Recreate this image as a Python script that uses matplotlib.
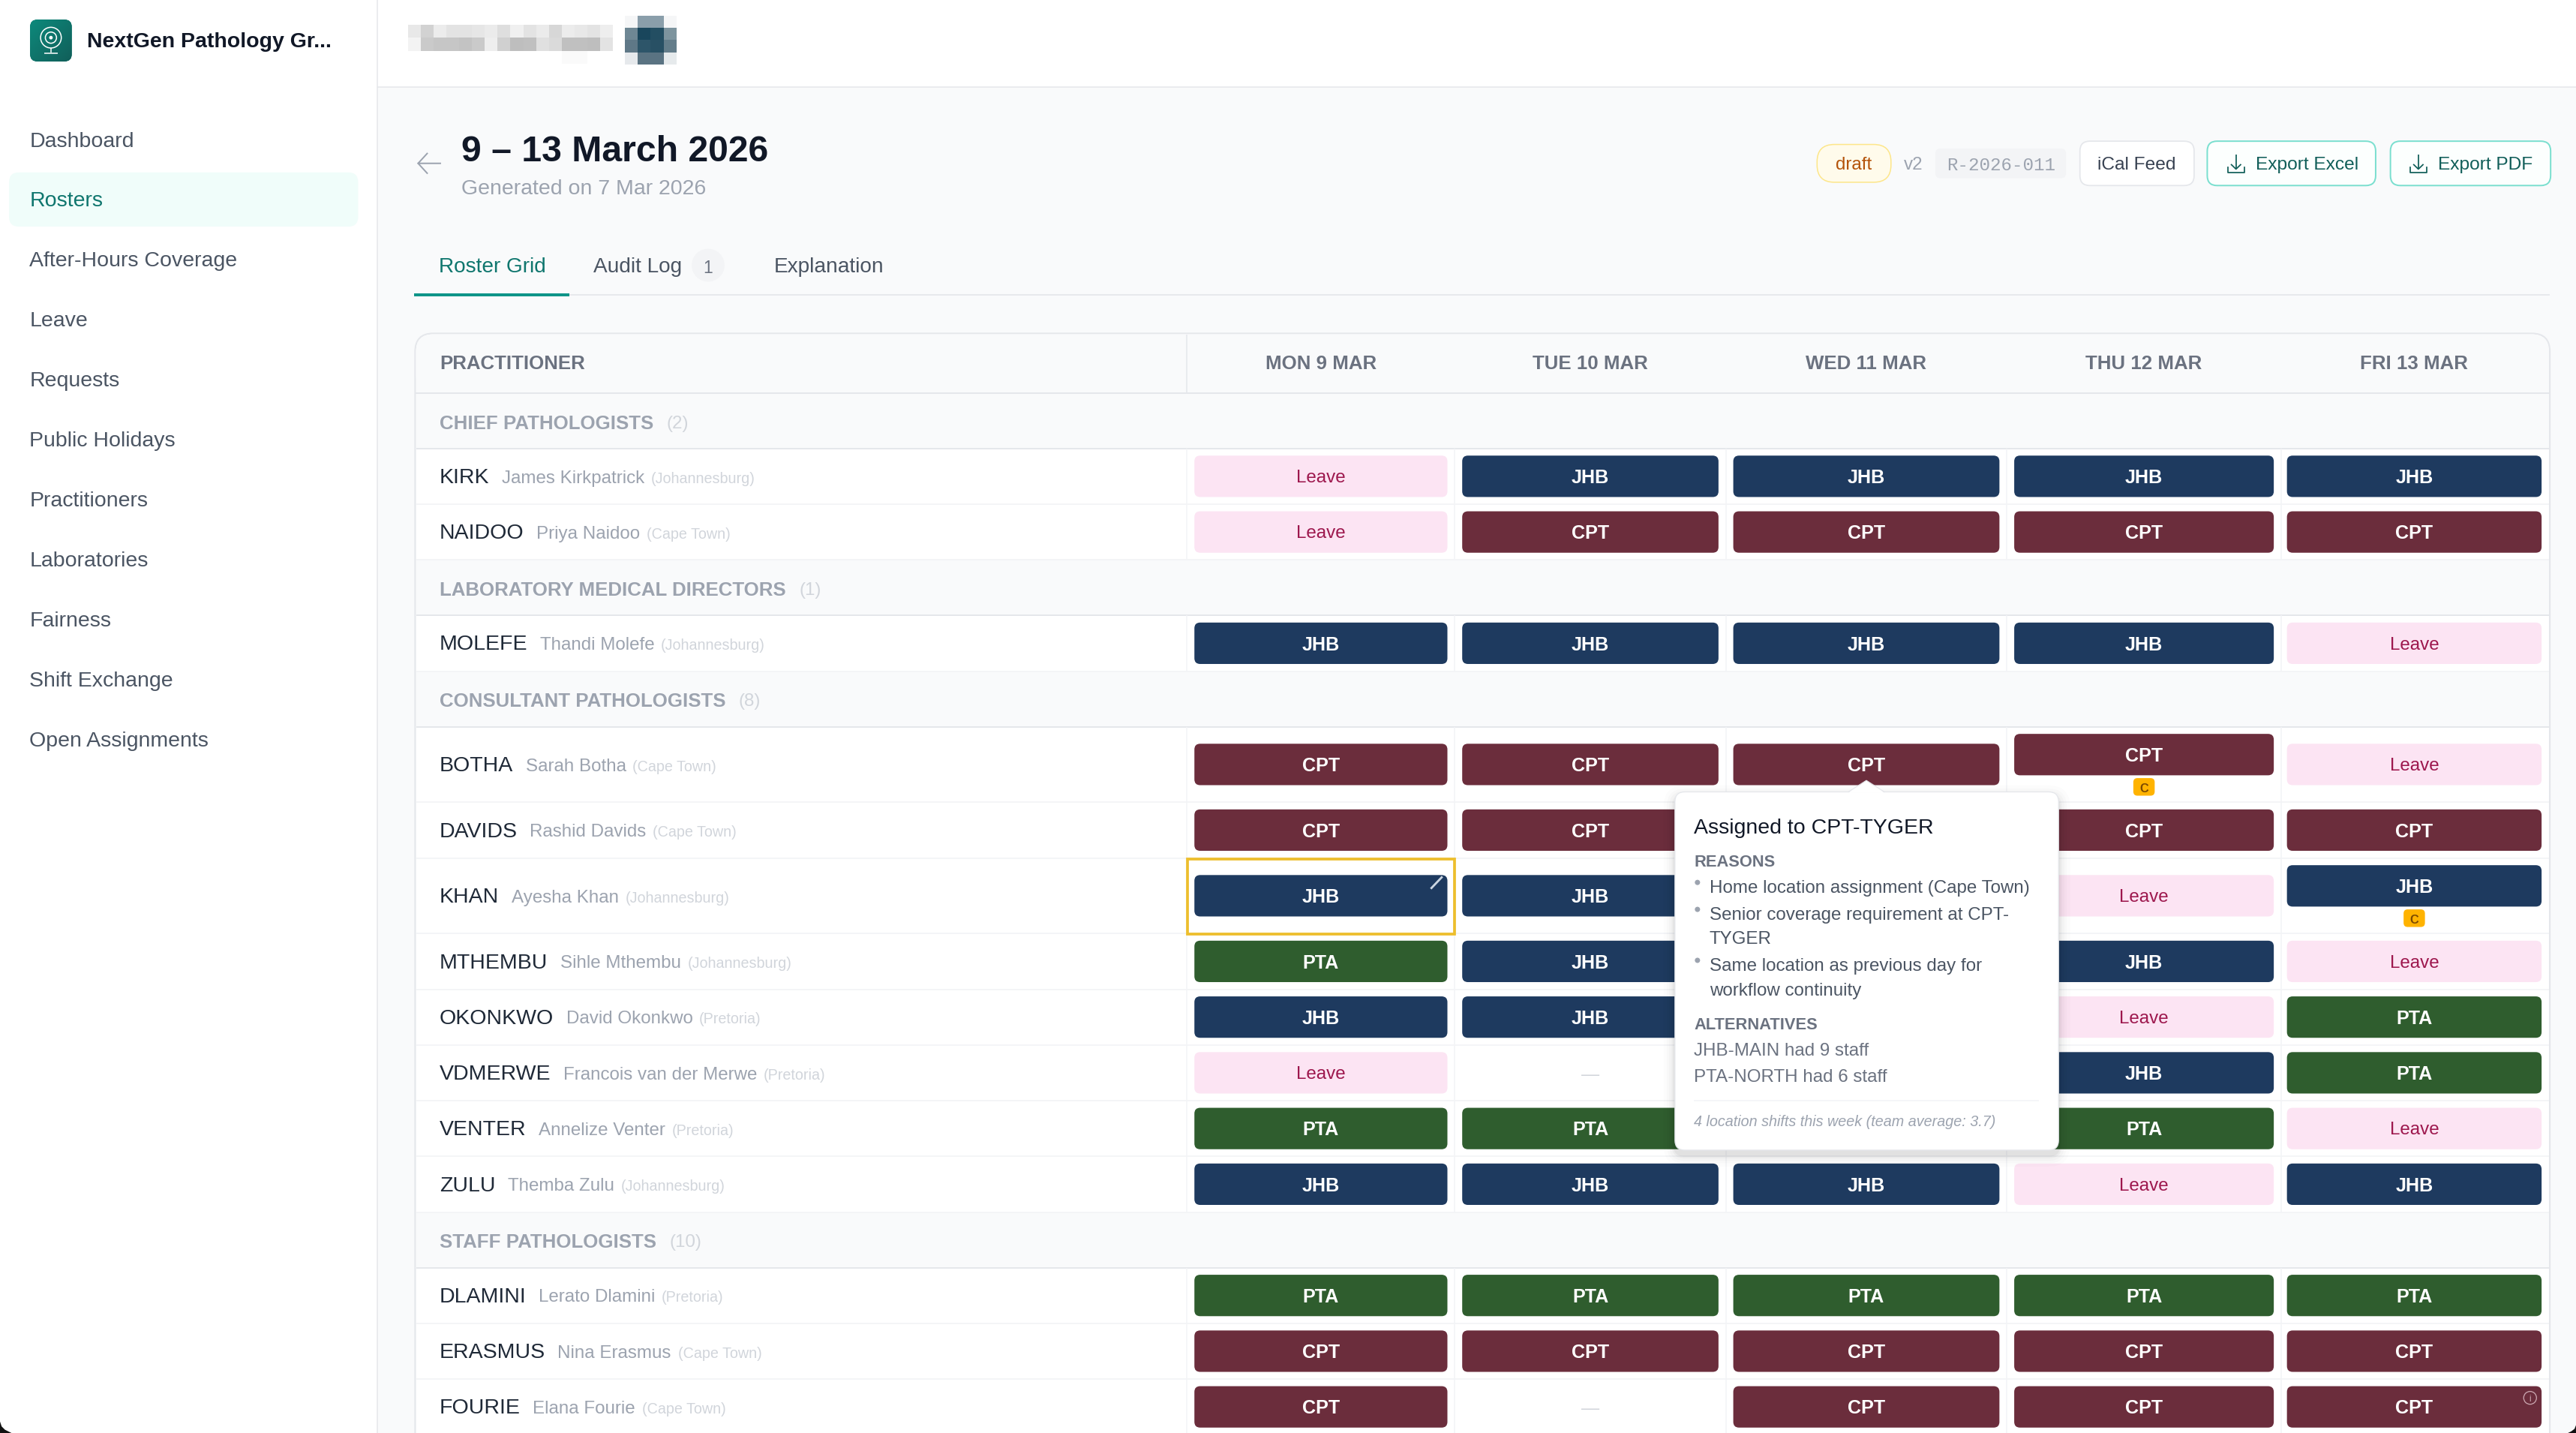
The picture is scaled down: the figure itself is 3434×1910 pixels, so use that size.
import numpy as np
import matplotlib
matplotlib.use("Agg")
import matplotlib.pyplot as plt
from matplotlib.patches import FancyBboxPatch, Rectangle, Circle, Polygon

plt.rcParams['font.family'] = ['Liberation Sans', 'DejaVu Sans']

# data
nav_items = ["Dashboard", "Rosters", "After-Hours Coverage", "Leave", "Requests", "Public Holidays",
             "Practitioners", "Laboratories", "Fairness", "Shift Exchange", "Open Assignments"]
days = ["MON 9 MAR", "TUE 10 MAR", "WED 11 MAR", "THU 12 MAR", "FRI 13 MAR"]
tabs = ["Roster Grid", "Audit Log", "Explanation"]

# (code, full name, town, cells), "" = hidden behind the tooltip, "-" = nothing assigned
chief = [("KIRK", "James Kirkpatrick", "Johannesburg", ["Leave", "JHB", "JHB", "JHB", "JHB"]),
         ("NAIDOO", "Priya Naidoo", "Cape Town", ["Leave", "CPT", "CPT", "CPT", "CPT"])]
directors = [("MOLEFE", "Thandi Molefe", "Johannesburg", ["JHB", "JHB", "JHB", "JHB", "Leave"])]
consultants = [("BOTHA", "Sarah Botha", "Cape Town", ["CPT", "CPT", "CPT", "CPT", "Leave"]),
               ("DAVIDS", "Rashid Davids", "Cape Town", ["CPT", "CPT", "", "CPT", "CPT"]),
               ("KHAN", "Ayesha Khan", "Johannesburg", ["JHB", "JHB", "", "Leave", "JHB"]),
               ("MTHEMBU", "Sihle Mthembu", "Johannesburg", ["PTA", "JHB", "", "JHB", "Leave"]),
               ("OKONKWO", "David Okonkwo", "Pretoria", ["JHB", "JHB", "", "Leave", "PTA"]),
               ("VDMERWE", "Francois van der Merwe", "Pretoria", ["Leave", "-", "", "JHB", "PTA"]),
               ("VENTER", "Annelize Venter", "Pretoria", ["PTA", "PTA", "", "PTA", "Leave"]),
               ("ZULU", "Themba Zulu", "Johannesburg", ["JHB", "JHB", "JHB", "Leave", "JHB"])]
staff = [("DLAMINI", "Lerato Dlamini", "Pretoria", ["PTA", "PTA", "PTA", "PTA", "PTA"]),
         ("ERASMUS", "Nina Erasmus", "Cape Town", ["CPT", "CPT", "CPT", "CPT", "CPT"]),
         ("FOURIE", "Elana Fourie", "Cape Town", ["CPT", "-", "CPT", "CPT", "CPT"])]
groups = [("CHIEF PATHOLOGISTS", "(2)", chief),
          ("LABORATORY MEDICAL DIRECTORS", "(1)", directors),
          ("CONSULTANT PATHOLOGISTS", "(8)", consultants),
          ("STAFF PATHOLOGISTS", "(10)", staff)]
# rows which carry a small C badge: code -> day index
call_badges = {"BOTHA": 3, "KHAN": 4}

reasons = [["Home location assignment (Cape Town)"],
           ["Senior coverage requirement at CPT-", "TYGER"],
           ["Same location as previous day for", "workflow continuity"]]
alternatives = ["JHB-MAIN had 9 staff", "PTA-NORTH had 6 staff"]

mosaic_left = [[232, 210, 236, 228, 228, 230, 235, 222, 240, 228, 235, 215, 236, 232, 228, 238],
               [244, 202, 198, 198, 195, 202, 238, 208, 190, 192, 224, 218, 192, 192, 190, 228],
               [255, 255, 255, 255, 255, 255, 255, 255, 255, 255, 255, 255, 250, 250, 255, 255]]
mosaic_right = [[(245, 246, 247), (138, 158, 170), (138, 158, 170), (245, 246, 247)],
                [(110, 135, 148), (25, 70, 92), (35, 78, 98), (125, 148, 158)],
                [(95, 120, 135), (45, 85, 105), (40, 80, 100), (100, 125, 138)],
                [(230, 233, 236), (90, 115, 130), (90, 115, 130), (230, 234, 236)]]

# styles
pill_colors = {"CPT": "#6B2D3C", "JHB": "#1E3A5F", "PTA": "#2F5D2E", "Leave": "#FCE4F3"}
col_left = [727, 890, 1055, 1226, 1392]
col_right = [881, 1046, 1217, 1384, 1547]
col_lines = [722.5, 885.5, 1050.5, 1221.5, 1388.5]
TEAL = "#0F766E"
LINE = "#E5E7EB"
LIGHT = "#F3F4F6"
BG = "#F9FAFB"

# 1 pt == 1 unit of the axes
DPI = 2.19 * 72
fig = plt.figure(figsize=(3434.2 / DPI, 1910.2 / DPI), dpi=DPI, facecolor="white")
ax = fig.add_axes([0, 0, 1, 1])
ax.set_xlim(0, 3434 / 2.19)
ax.set_ylim(1910 / 2.19, 0)
ax.axis("off")
W, H = 3434 / 2.19, 1910 / 2.19
renderer = fig.canvas.get_renderer()


def box(x0, y0, x1, y1, fc, ec="none", lw=0, r=0, z=2, alpha=None):
    if r > 0:
        p = FancyBboxPatch((x0, y0), x1 - x0, y1 - y0, boxstyle=f"round,pad=0,rounding_size={r}",
                           fc=fc, ec=ec, lw=lw, zorder=z, alpha=alpha)
    else:
        p = Rectangle((x0, y0), x1 - x0, y1 - y0, fc=fc, ec=ec, lw=lw, zorder=z, alpha=alpha)
    ax.add_patch(p)
    return p


def txt(x, y, s, size=13, color="#111827", ha="left", weight="normal", z=5, **kw):
    return ax.text(x, y, s, fontsize=size, color=color, ha=ha, va="center_baseline", fontweight=weight, zorder=z, **kw)


def right_of(t):
    bb = t.get_window_extent(renderer)
    return ax.transData.inverted().transform((bb.x1, bb.y0))[0]


def hline(x0, x1, y, color=LINE, lw=0.7, z=3):
    ax.plot([x0, x1], [y, y], color=color, lw=lw, zorder=z, solid_capstyle="butt")


def vline(x, y0, y1, color=LINE, lw=0.7, z=3):
    ax.plot([x, x], [y0, y1], color=color, lw=lw, zorder=z, solid_capstyle="butt")


# page frame
box(229.5, 53, W, H, BG, z=0)
vline(229.5, 0, H, color=LINE)
hline(229.5, W, 53.2, color=LINE)

# sidebar
logo = box(18.3, 12, 43.7, 37.5, "#0F766E", r=4.5, z=3)
grad = np.linspace(0, 1, 50)[None, :] + np.linspace(0, 1, 50)[:, None]
im = ax.imshow(grad, extent=(18, 44, 38, 12), cmap=matplotlib.colors.LinearSegmentedColormap.from_list("l", ["#0D8A7C", "#115E59"]),
               zorder=4, aspect="auto")
im.set_clip_path(logo)
ax.set_xlim(0, W)
ax.set_ylim(H, 0)
for rad, lw in [(6.3, 0.7), (3.4, 0.7)]:
    ax.add_patch(Circle((31, 23), rad, fc="none", ec="white", lw=lw, zorder=5))
ax.add_patch(Circle((31, 23), 1.1, fc="white", ec="none", zorder=5))
vline(31, 29.5, 32, color="white", z=5)
hline(27, 35, 32.3, color="white", z=5)
txt(53, 24.2, "NextGen Pathology Gr...", size=13, weight="bold")

box(5.5, 105, 218, 138, "#F0FDFA", r=6, z=1)
for i, item in enumerate(nav_items):
    active = item == "Rosters"
    txt(18, 84.7 + i * 36.5, item, size=13, color=TEAL if active else "#4B5563")

# pixelated block in the header
left_img = np.array(mosaic_left, dtype=float) / 255
ax.imshow(left_img, extent=(248.4, 372.6, 38.8, 15.5), cmap="gray", vmin=0, vmax=1, interpolation="nearest",
          aspect="auto", zorder=2)
ax.imshow(np.array(mosaic_right, dtype=np.uint8), extent=(380.3, 411.4, 39.2, 9.6), interpolation="nearest",
          aspect="auto", zorder=2)
ax.set_xlim(0, W)
ax.set_ylim(H, 0)

# page title
ax.plot([268, 254.5, 260], [99.5, 99.5, 93.5], color="#9CA3AF", lw=0.9, zorder=3)
ax.plot([254.5, 260], [99.5, 105.5], color="#9CA3AF", lw=0.9, zorder=3)
txt(281, 90, "9 \u2013 13 March 2026", size=22, weight="bold")
txt(281, 113.7, "Generated on 7 Mar 2026", size=13, color="#9CA3AF")

# top right buttons
box(1106, 88, 1151, 111, "#FFFBEB", ec="#FDE68A", lw=0.7, r=10.5)
txt(1128.5, 99.5, "draft", size=11, color="#B45309", ha="center")
txt(1164.5, 99.5, "v2", size=11, color="#9CA3AF", ha="center")
box(1178, 90.5, 1257.5, 108.5, LIGHT, r=3)
txt(1217.8, 99.7, "R-2026-011", size=11, color="#9CA3AF", ha="center", family="Liberation Mono")
box(1266, 86, 1335.5, 113, "white", ec=LINE, lw=0.8, r=6)
txt(1300.7, 99.5, "iCal Feed", size=11.2, color="#374151", ha="center")
for x0, x1, icon_x, label, text_x in [(1343.5, 1446, 1361, "Export Excel", 1373), (1455, 1552.5, 1472, "Export PDF", 1484)]:
    box(x0, 86, x1, 113, "#FCFFFE", ec="#7ADFCF", lw=0.9, r=6)
    txt(text_x, 99.5, label, size=11.2, color="#115E59")
    vline(icon_x, 94, 103, color="#115E59", lw=0.8, z=5)
    ax.plot([icon_x - 2.8, icon_x, icon_x + 2.8], [100.3, 103, 100.3], color="#115E59", lw=0.8, zorder=5)
    ax.plot([icon_x - 5, icon_x - 5, icon_x + 5, icon_x + 5], [102, 105.2, 105.2, 102], color="#115E59", lw=0.8, zorder=5)

# tabs
tab_x = [267, 361, 471]
for i, (tab, x) in enumerate(zip(tabs, tab_x)):
    txt(x, 161, tab, size=12.8, color="#0F766E" if i == 0 else "#4B5563")
ax.add_patch(Circle((431, 161.5), 10, fc=LIGHT, ec="none", zorder=3))
txt(431, 162, "1", size=10.5, color="#6B7280", ha="center")
hline(252, 1552, 179.5, color=LINE, lw=0.8)
hline(252, 346.5, 179.3, color="#0D9488", lw=1.8, z=4)

# table card
box(252.7, 203, 1552, H + 30, "white", ec=LINE, lw=1.0, r=11, z=1)
box(253.2, 203.5, 1551.5, 239, BG, r=10.5, z=1.5)
box(253.2, 215, 1551.5, 239, BG, z=1.5)
hline(253, 1552, 239.3, color=LINE, lw=0.9)
vline(722.5, 203.5, 239, color=LINE)
txt(267.5, 220.5, "PRACTITIONER", size=11.8, color="#6B7280", weight="bold")
for d, x0, x1 in zip(days, col_left, col_right):
    txt((x0 + x1) / 2, 220.5, d, size=11.8, color="#6B7280", weight="bold", ha="center")

# table rows
y = 239.2
for gname, gcount, rows in groups:
    gh = 33.8
    box(253.2, y, 1551.5, y + gh, BG, z=1.5)
    hline(253.2, 1551.5, y + gh, color=LINE, lw=0.9)
    t = txt(267.5, y + gh / 2 + 0.5, gname, size=11.8, color="#9CA3AF", weight="bold")
    txt(right_of(t) + 8, y + gh / 2 + 0.5, gcount, size=11, color="#D1D5DB")
    y += gh
    for code, full, town, cells in rows:
        tall = code in call_badges
        rh = 46 if tall else 33.9
        cy = y + rh / 2
        hline(253.2, 1551.5, y + rh, color=LIGHT, lw=0.8)
        for lx in col_lines:
            vline(lx, y, y + rh, color=LIGHT, lw=0.7)
        t = txt(267.5, cy - 0.5, code, size=13, color="#1F2937")
        t = txt(right_of(t) + 7.5, cy, full, size=11, color="#9CA3AF")
        txt(right_of(t) + 4, cy + 0.5, f"({town})", size=9, color="#D1D5DB")
        for k, cell in enumerate(cells):
            x0, x1 = col_left[k], col_right[k]
            mid = (x0 + x1) / 2
            if cell == "":
                continue
            if cell == "-":
                txt(mid, cy, "\u2014", size=11, color="#D1D5DB", ha="center")
                continue
            py = cy
            if call_badges.get(code) == k:
                py = cy - 6
                box(mid - 6.5, cy + 8.3, mid + 6.5, cy + 19, "#FFB300", r=2.5, z=4)
                txt(mid, cy + 14, "C", size=7.5, color="#7C4A00", ha="center", weight="bold")
            box(x0, py - 12.6, x1, py + 12.6, pill_colors[cell], r=3.5, z=3)
            if cell == "Leave":
                txt(mid, py - 0.2, cell, size=11, color="#9D174D", ha="center")
            else:
                txt(mid, py - 0.2, cell, size=11.5, color="white", ha="center", weight="bold")
            if code == "KHAN" and k == 0:
                box(722.7, y + 0.7, 885.5, y + rh + 0.5, "none", ec="#EDBE2C", lw=1.7, z=4)
                ax.plot([871.3, 877.5], [540.5, 534], color="#CBD5E1", lw=1.3, zorder=5)
            if code == "FOURIE" and k == 4:
                ax.add_patch(Circle((x1 - 7, py - 5.5), 3.9, fc="none", ec="#C9A5AE", lw=0.6, zorder=5))
                txt(x1 - 7, py - 5.3, "i", size=5.5, color="#C9A5AE", ha="center")
        y += rh

# tooltip
tx0, tx1, ty0, ty1 = 1019.5, 1253, 482, 700
for grow, a in [(7, 0.012), (5, 0.015), (3.5, 0.02), (2, 0.03), (1, 0.04)]:
    box(tx0 - grow, ty0 - grow + 3, tx1 + grow, ty1 + grow + 3, "black", r=6 + grow, z=6, alpha=a)
box(tx0, ty0, tx1, ty1, "white", ec=LINE, lw=0.6, r=6, z=7)
ax.add_patch(Polygon([(1125, 482.6), (1136, 475), (1147, 482.6)], closed=True, fc="white", ec="none", zorder=8))
ax.plot([1125, 1136, 1147], [482, 475, 482], color=LINE, lw=0.5, zorder=8)
tip = 9
txt(1031, 502.5, "Assigned to CPT-TYGER", size=13, z=tip)
txt(1031, 523.7, "REASONS", size=10, color="#6B7280", weight="bold", z=tip)
line_ys = [[539.6], [556, 570.7], [587, 601.8]]
for reason, ys in zip(reasons, line_ys):
    ax.add_patch(Circle((1033.2, ys[0] - 2.5), 1.6, fc="#9CA3AF", ec="none", zorder=tip))
    for s, yy in zip(reason, ys):
        txt(1040.5, yy, s, size=11, color="#4B5563", z=tip)
txt(1031, 622.8, "ALTERNATIVES", size=10, color="#6B7280", weight="bold", z=tip)
for s, yy in zip(alternatives, [638.3, 654.6]):
    txt(1031, yy, s, size=11, color="#6B7280", z=tip)
hline(1031, 1241, 670, color=LIGHT, lw=0.7, z=tip)
txt(1031, 682, "4 location shifts this week (team average: 3.7)", size=9, color="#9CA3AF", z=tip, style="italic")

# screen corner left at the bottom of the screenshot
ax.add_patch(Polygon([(0, H), (0, H - 7), (1, H - 4), (3, H - 2), (7, H)], closed=True, fc="#111111", ec="none", zorder=10))
ax.add_patch(Polygon([(W, H), (W, H - 5), (W - 1, H - 2.5), (W - 3, H - 1), (W - 5, H)], closed=True, fc="#111111", ec="none", zorder=10))

fig.savefig("out.png", dpi=DPI, facecolor="white")
